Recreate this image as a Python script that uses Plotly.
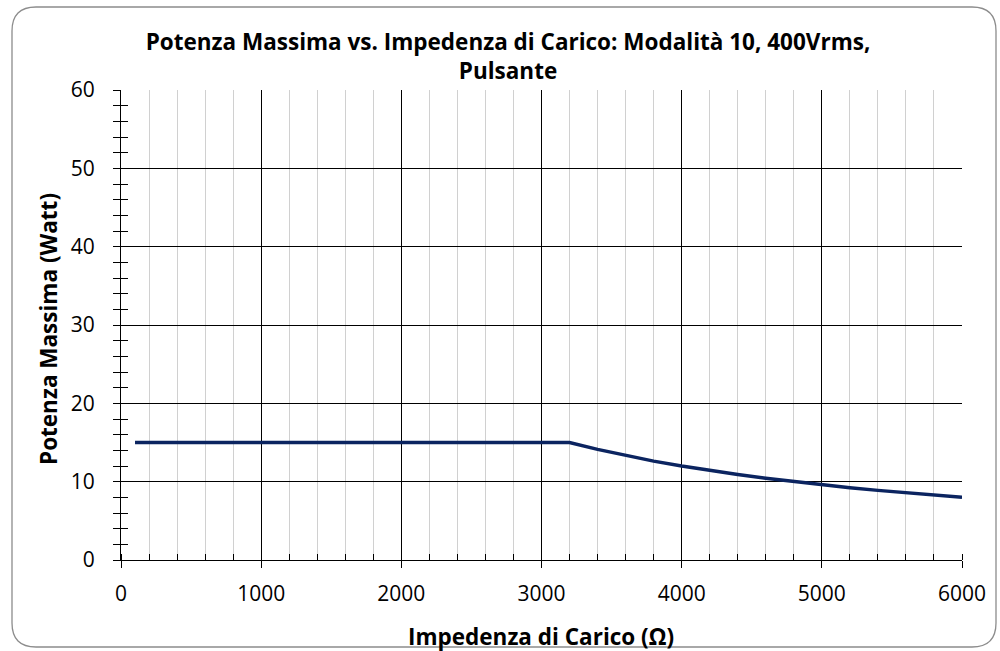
import plotly.graph_objects as go

# Data
impedance = [100, 200, 400, 600, 800, 1000, 1200, 1400, 1600, 1800, 2000, 2200, 2400, 2600,
             2800, 3000, 3200, 3400, 3600, 3800, 4000, 4200, 4400, 4600, 4800, 5000,
             5200, 5400, 5600, 5800, 6000]
power = [15, 15, 15, 15, 15, 15, 15, 15, 15, 15, 15, 15, 15, 15,
         15, 15, 15, 14.12, 13.33, 12.63, 12.0, 11.43, 10.91, 10.43, 10.0, 9.6,
         9.23, 8.89, 8.57, 8.28, 8.0]

x_ticks = [0, 1000, 2000, 3000, 4000, 5000, 6000]
y_ticks = [0, 10, 20, 30, 40, 50, 60]

title_text = "Potenza Massima vs. Impedenza di Carico: Modalità 10, 400Vrms,<br>Pulsante"
x_title = "Impedenza di Carico (Ω)"
y_title = "Potenza Massima (Watt)"

FONT = "Open Sans"
BOLD_SIZE = 22.5
TICK_SIZE = 21

fig = go.Figure()
fig.add_trace(go.Scatter(x=impedance, y=power, mode="lines",
                         line=dict(color="#0b2460", width=3.4),
                         showlegend=False, hoverinfo="x+y"))
# invisible trace on overlay axis so its crossing ticks render
fig.add_trace(go.Scatter(x=[0], y=[0], xaxis="x", yaxis="y2", mode="markers",
                         marker=dict(opacity=0), showlegend=False, hoverinfo="skip"))

L, R, T, B = 121, 38, 90, 91
W, H = 1000, 651
pw, ph = W - L - R, H - T - B

def px(x):
    return (x - L) / pw

def py(y):
    return (H - B - y) / ph

x0, x1, y0, y1, rad = 12, 996, 7, 647, 24
path = (f"M {px(x0+rad)} {py(y0)} L {px(x1-rad)} {py(y0)} "
        f"Q {px(x1)} {py(y0)} {px(x1)} {py(y0+rad)} "
        f"L {px(x1)} {py(y1-rad)} Q {px(x1)} {py(y1)} {px(x1-rad)} {py(y1)} "
        f"L {px(x0+rad)} {py(y1)} Q {px(x0)} {py(y1)} {px(x0)} {py(y1-rad)} "
        f"L {px(x0)} {py(y0+rad)} Q {px(x0)} {py(y0)} {px(x0+rad)} {py(y0)} Z")

fig.update_layout(
    width=W, height=H,
    margin=dict(l=L, r=R, t=T, b=B, autoexpand=False),
    paper_bgcolor="white", plot_bgcolor="white",
    font=dict(family=FONT, color="#000000"),
    title=dict(text="<b>" + title_text + "</b>", x=0.508, xanchor="center",
               xref="container", yref="container", y=1 - 50 / H, yanchor="top",
               font=dict(family=FONT, size=BOLD_SIZE, color="#000000")),
    xaxis=dict(range=[0, 6000], tickvals=x_ticks, ticktext=[str(v) for v in x_ticks],
               showgrid=True, gridcolor="#000000", gridwidth=1,
               ticks="outside", ticklen=7, tickcolor="#000000", tickwidth=1,
               showline=True, linecolor="#000000", linewidth=1,
               minor=dict(dtick=200, showgrid=True, gridcolor="#d0d0d0", gridwidth=1,
                          ticks="inside", ticklen=6, tickcolor="#000000", tickwidth=1),
               tickfont=dict(family=FONT, size=TICK_SIZE), zeroline=False,
               ticklabelstandoff=8, automargin=False),
    yaxis=dict(range=[0, 60], tickvals=y_ticks, ticktext=[str(v) for v in y_ticks],
               showgrid=True, gridcolor="#000000", gridwidth=1,
               ticks="outside", ticklen=7, tickcolor="#000000", tickwidth=1,
               showline=True, linecolor="#000000", linewidth=1,
               minor=dict(dtick=2, showgrid=False,
                          ticks="outside", ticklen=7, tickcolor="#000000", tickwidth=1),
               tickfont=dict(family=FONT, size=TICK_SIZE), zeroline=False,
               ticklabelstandoff=14, automargin=False),
    yaxis2=dict(overlaying="y", side="left", range=[0, 60], dtick=10,
                showgrid=False, showticklabels=False, zeroline=False,
                ticks="inside", ticklen=7, tickcolor="#000000", tickwidth=1,
                automargin=False,
                minor=dict(dtick=2, ticks="inside", ticklen=7, tickcolor="#000000",
                           tickwidth=1, showgrid=False)),
    annotations=[
        dict(text="<b>" + x_title + "</b>", xref="paper", yref="paper",
             x=px(541), y=py(636), xanchor="center", yanchor="middle",
             showarrow=False, font=dict(family=FONT, size=BOLD_SIZE, color="#000000")),
        dict(text="<b>" + y_title + "</b>", xref="paper", yref="paper",
             x=px(48), y=py(329), xanchor="center", yanchor="middle", textangle=-90,
             showarrow=False, font=dict(family=FONT, size=BOLD_SIZE, color="#000000")),
    ],
    shapes=[dict(type="path", xref="paper", yref="paper", path=path,
                 line=dict(color="#8c8c8c", width=1.3), fillcolor="rgba(0,0,0,0)",
                 layer="below")],
)

fig.write_html("out.html", config={"displayModeBar": False},
               post_script="document.body.style.margin='0px';")
